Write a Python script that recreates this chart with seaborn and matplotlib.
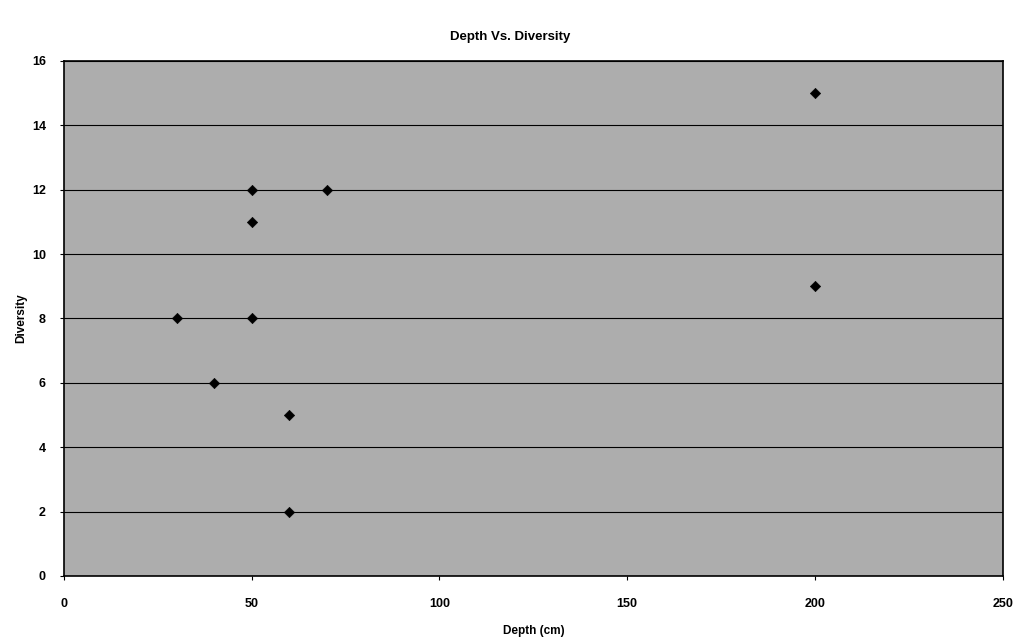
import matplotlib
matplotlib.use("Agg")
import matplotlib.pyplot as plt
import seaborn as sns
import pandas as pd

depth = [30, 40, 50, 50, 50, 60, 60, 70, 200, 200]
diversity = [8, 6, 12, 11, 8, 5, 2, 12, 15, 9]
x_ticks = [0, 50, 100, 150, 200, 250]
y_ticks = [0, 2, 4, 6, 8, 10, 12, 14, 16]

df = pd.DataFrame({"Depth (cm)": depth, "Diversity": diversity})

sns.set_style("ticks")
plt.rcParams["font.family"] = ["Liberation Sans", "DejaVu Sans"]
plt.rcParams["font.weight"] = "bold"
plt.rcParams["text.color"] = "black"
plt.rcParams["axes.labelcolor"] = "black"
plt.rcParams["xtick.labelcolor"] = "black"
plt.rcParams["ytick.labelcolor"] = "black"

fig = plt.figure(figsize=(10.21, 6.39), dpi=100)
ax = fig.add_axes([0.0627, 0.0986, 0.9193, 0.806])
ax.set_facecolor("#adadad")

sns.scatterplot(data=df, x="Depth (cm)", y="Diversity", ax=ax, marker="D",
                color="black", s=28, edgecolor="black", zorder=3)

ax.set_xlim(0, 250)
ax.set_ylim(0, 16)
ax.set_xticks(x_ticks)
ax.set_yticks(y_ticks)
ax.yaxis.grid(True, color="black", linewidth=0.8)
ax.set_axisbelow(True)
for sp in ax.spines.values():
    sp.set_color("black")
    sp.set_linewidth(1.2)
ax.tick_params(axis="both", labelsize=9, length=3, width=0.8, color="black", pad=13)
ax.tick_params(axis="y", pad=10)

ax.set_xlabel("Depth (cm)", fontsize=8.5, fontweight="bold", labelpad=11)
ax.set_ylabel("Diversity", fontsize=8.5, fontweight="bold", labelpad=3)
fig.text(0.5, 0.942, "Depth Vs. Diversity", fontsize=9.5, fontweight="bold",
         ha="center", va="center")

fig.savefig("out.png", dpi=100)
